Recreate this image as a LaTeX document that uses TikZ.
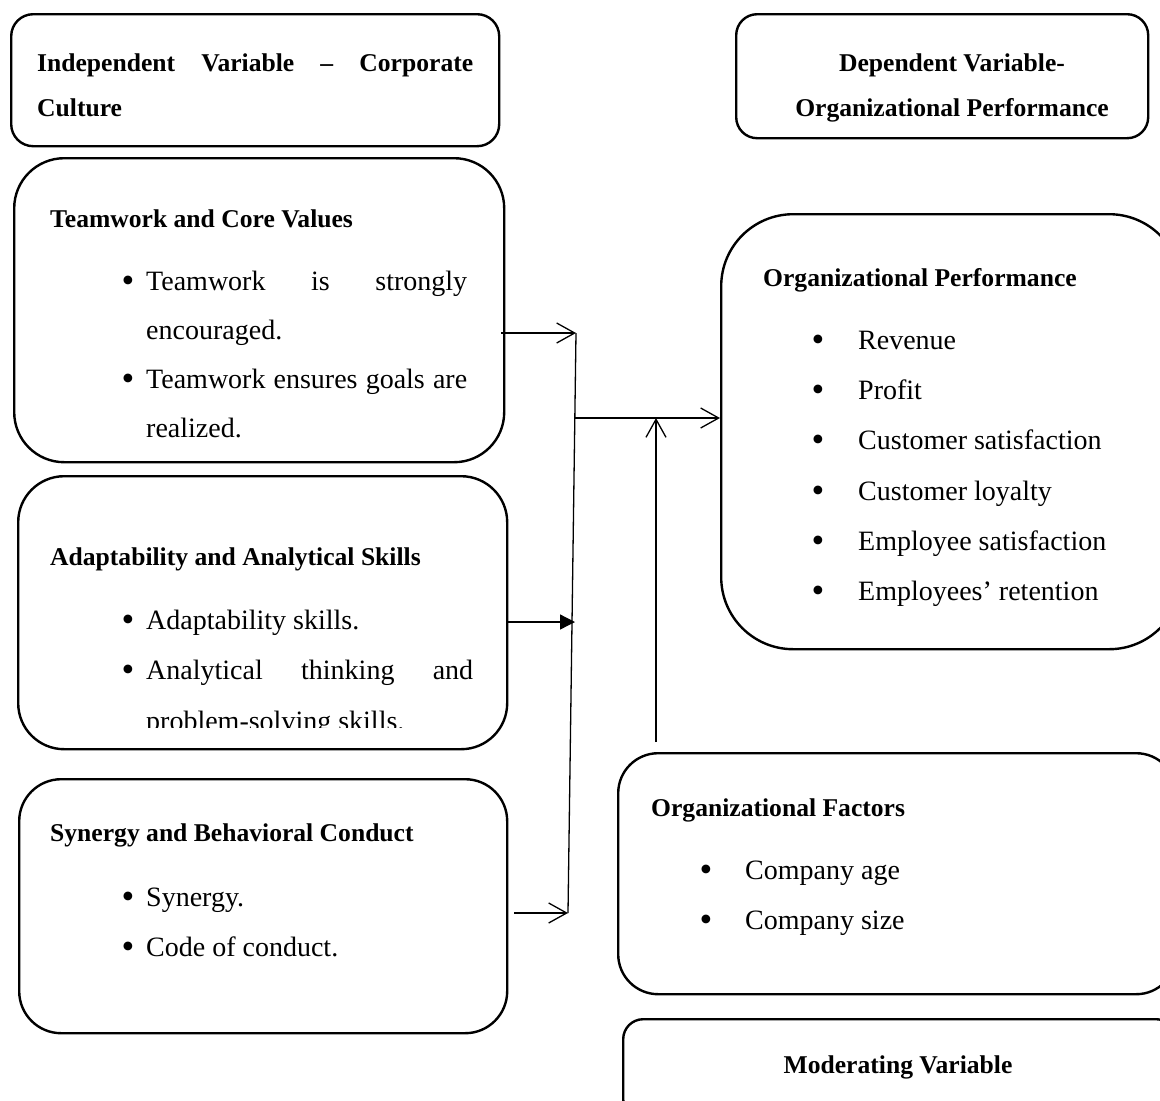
\documentclass[tikz,border=0pt]{standalone}
\usepackage{fontspec}
\setmainfont{Liberation Serif}
\usetikzlibrary{arrows.meta}
\newcommand{\mybul}{\scalebox{1.3}{\textbullet}}
\begin{document}
\begin{tikzpicture}[x=1pt,y=-1pt,
  box/.style={draw, line width=2.4pt, rounded corners=#1, inner sep=0pt, anchor=north west},
  hd/.style={font=\fontsize{25.6}{30}\selectfont\bfseries, anchor=base west, inner sep=0pt},
  hdc/.style={font=\fontsize{25.6}{30}\selectfont\bfseries, anchor=base, inner sep=0pt},
  bd/.style={font=\fontsize{28}{32}\selectfont, anchor=base west, inner sep=0pt},
  bul/.style={font=\fontsize{28}{32}\selectfont, anchor=base, inner sep=0pt},
  link/.style={line width=1.3pt},
  barb/.style={link, -{Straight Barb[length=18pt,width=20pt]}},
  tri/.style={link, -{Triangle[length=15pt,width=15pt]}},
]
\useasboundingbox (0,0) rectangle (1160,1101);
\clip (0,0) rectangle (1160,1101);

% ---- boxes ----
\node[box=22, minimum width=488pt, minimum height=132pt] (bA) at (10,13) {};
\node[box=50, minimum width=490pt, minimum height=304pt] (bB) at (13,157) {};
\node[box=46, minimum width=489pt, minimum height=273pt] (bC) at (17,475) {};
\node[box=42, minimum width=488pt, minimum height=254pt] (bD) at (18,778) {};
\node[box=21, minimum width=412pt, minimum height=124pt] (bE) at (735,13) {};
\node[box=72, minimum width=460pt, minimum height=435pt] (bF) at (720,213) {};
\node[box=40, minimum width=558pt, minimum height=241pt] (bG) at (617,752) {};
\node[box=20, minimum width=553pt, minimum height=100pt] (bH) at (622,1018) {};

% ---- headers ----
\node[hd] (tA1) at (37,71) {\makebox[436pt][s]{Independent Variable – Corporate}};
\node[hd] (tA2) at (37,116) {Culture};
\node[hdc] (tE1) at (952,71) {Dependent Variable-};
\node[hdc] (tE2) at (952,116) {Organizational Performance};

% ---- box B ----
\node[hd] (tB0) at (50,227) {Teamwork and Core Values};
\node[bul] (uB1) at (128,292) {\mybul};
\node[bd] (tB1) at (146,290) {\makebox[321pt][s]{Teamwork is strongly}};
\node[bd] (tB2) at (146,339) {encouraged.};
\node[bul] (uB2) at (128,390) {\mybul};
\node[bd] (tB3) at (146,388) {\makebox[321pt][s]{Teamwork ensures goals are}};
\node[bd] (tB4) at (146,437) {realized.};

% ---- box C ----
\node[hd] (tC0) at (50,565) {Adaptability and Analytical Skills};
\node[bul] (uC1) at (128,631) {\mybul};
\node[bd] (tC1) at (146,629) {Adaptability skills.};
\node[bul] (uC2) at (128,681) {\mybul};
\node[bd] (tC2) at (146,679) {\makebox[327pt][s]{Analytical thinking and}};
\begin{scope}
\clip (0,0) rectangle (1160,727);
\node[bd] (tC3) at (146,730) {problem-solving skills.};
\end{scope}

% ---- box D ----
\node[hd] (tD0) at (50,841) {Synergy and Behavioral Conduct};
\node[bul] (uD1) at (128,908) {\mybul};
\node[bd] (tD1) at (146,906) {Synergy.};
\node[bul] (uD2) at (128,958) {\mybul};
\node[bd] (tD2) at (146,956) {Code of conduct.};

% ---- box F ----
\node[hd] (tF0) at (763,286) {Organizational Performance};
\node[bul] (uF1) at (818,351) {\mybul};
\node[bd] (tF1) at (858,349) {Revenue};
\node[bul] (uF2) at (818,401) {\mybul};
\node[bd] (tF2) at (858,399) {Profit};
\node[bul] (uF3) at (818,451) {\mybul};
\node[bd] (tF3) at (858,449) {Customer satisfaction};
\node[bul] (uF4) at (818,502) {\mybul};
\node[bd] (tF4) at (858,500) {Customer loyalty};
\node[bul] (uF5) at (818,552) {\mybul};
\node[bd] (tF5) at (858,550) {Employee satisfaction};
\node[bul] (uF6) at (818,602) {\mybul};
\node[bd] (tF6) at (858,600) {Employees’ retention};

% ---- box G ----
\node[hd] (tG0) at (651,816) {Organizational Factors};
\node[bul] (uG1) at (706,881) {\mybul};
\node[bd] (tG1) at (745,879) {Company age};
\node[bul] (uG2) at (706,931) {\mybul};
\node[bd] (tG2) at (745,929) {Company size};

% ---- box H ----
\node[hdc] (tH0) at (898,1073) {Moderating Variable};

% ---- connectors ----
\coordinate (s1) at (501,333);
\coordinate (j1) at (576,333);
\coordinate (s2) at (506,622);
\coordinate (j2) at (575,622);
\coordinate (s3) at (514,913);
\coordinate (j3) at (568,913);
\coordinate (m1) at (575,418);
\coordinate (m2) at (720,418);
\coordinate (v1) at (656,742);
\coordinate (v2) at (656,418);

\draw[link] (j1) -- (j3);
\draw[barb] (s1) -- (j1);
\draw[tri] (s2) -- (j2);
\draw[barb] (s3) -- (j3);
\draw[barb] (m1) -- (m2);
\draw[barb] (v1) -- (v2);
\end{tikzpicture}
\end{document}
